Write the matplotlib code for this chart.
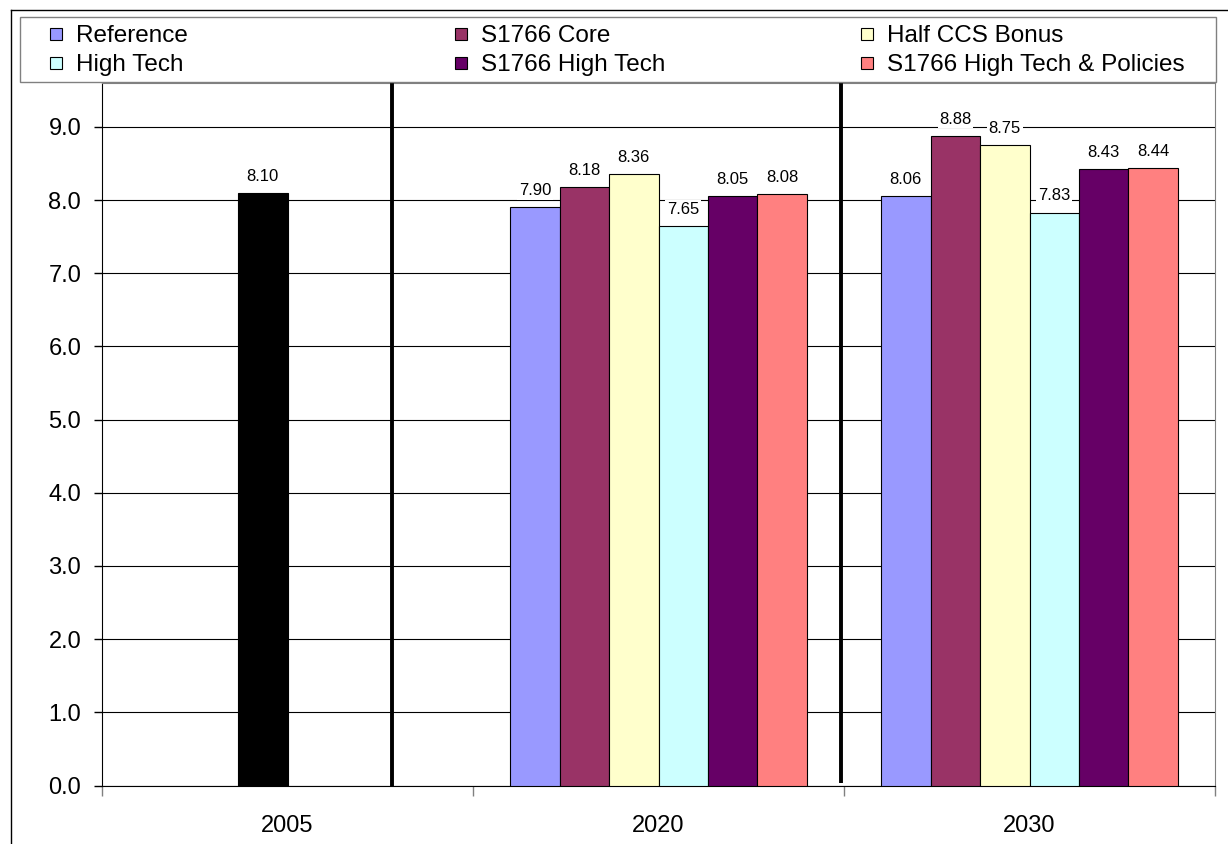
import matplotlib
matplotlib.use('Agg')
import matplotlib.pyplot as plt
from matplotlib.patches import Rectangle
from matplotlib.lines import Line2D
import numpy as np

plt.rcParams['font.family'] = ['Liberation Sans', 'DejaVu Sans']

# data
years = ['2005', '2020', '2030']
value_2005 = 8.10
series_names = ['Reference', 'S1766 Core', 'Half CCS Bonus',
                'High Tech', 'S1766 High Tech', 'S1766 High Tech & Policies']
series_colors = ['#9999FF', '#993366', '#FFFFCC', '#CCFFFF', '#660066', '#FF8080']
reference = [7.90, 8.06]
s1766_core = [8.18, 8.88]
half_ccs_bonus = [8.36, 8.75]
high_tech = [7.65, 7.83]
s1766_high_tech = [8.05, 8.43]
s1766_high_tech_policies = [8.08, 8.44]
series_values = [reference, s1766_core, half_ccs_bonus,
                 high_tech, s1766_high_tech, s1766_high_tech_policies]

W, H = 1228, 844
fig = plt.figure(figsize=(W / 100, H / 100), dpi=100)
fig.patch.set_facecolor('white')

ax_left, ax_right, ax_top, ax_bottom = 102, 1215, 83, 785.5
ax = fig.add_axes([ax_left / W, (H - ax_bottom) / H,
                   (ax_right - ax_left) / W, (ax_bottom - ax_top) / H])

n = len(series_names)
w = 0.8 / n
x = np.arange(len(years))

# 2005 bar sits in the third slot of the group
ax.bar(x[0] + (2 - (n - 1) / 2) * w, value_2005, w, color='black',
       edgecolor='black', linewidth=0.8, zorder=3)
ax.annotate(f'{value_2005:.2f}', (x[0] + (2 - (n - 1) / 2) * w, value_2005),
            xytext=(0, 6.5), textcoords='offset points', ha='center', va='bottom',
            fontsize=12, zorder=5,
            bbox=dict(boxstyle='square,pad=0.1', fc='white', ec='none'))

for j, (name, color, vals) in enumerate(zip(series_names, series_colors, series_values)):
    xs = x[1:] + (j - (n - 1) / 2) * w
    ax.bar(xs, vals, w, color=color, edgecolor='black', linewidth=0.8, zorder=3)
    for xi, v in zip(xs, vals):
        ax.annotate(f'{v:.2f}', (xi, v), xytext=(0, 6.5), textcoords='offset points',
                    ha='center', va='bottom', fontsize=12, zorder=5,
                    bbox=dict(boxstyle='square,pad=0.1', fc='white', ec='none'))

# separator lines between periods
ax.plot([0.282, 0.282], [0, 9.6], color='black', lw=2.8, zorder=4, solid_capstyle='butt')
ax.plot([1.492, 1.492], [0.04, 9.6], color='black', lw=2.8, zorder=4, solid_capstyle='butt')

ax.set_xlim(-0.5, 2.5)
ax.set_ylim(0, 9.6)

ax.set_yticks(np.arange(0, 10))
ax.set_yticklabels([f'{t:.1f}' for t in np.arange(0, 10)], fontsize=17)
ax.tick_params(axis='y', length=6, width=1, pad=9, color='black')
ax.yaxis.grid(True, color='black', linewidth=0.8)
ax.set_axisbelow(True)

ax.set_xticks([-0.5, 0.5, 1.5, 2.5])
ax.set_xticklabels([])
ax.tick_params(axis='x', which='major', length=7, width=1, color='#808080')
ax.set_xticks(x, minor=True)
ax.set_xticklabels(years, minor=True, fontsize=17)
ax.tick_params(axis='x', which='minor', length=0, pad=21)

ax.spines['left'].set_color('black')
ax.spines['bottom'].set_color('black')
ax.spines['right'].set_color('#808080')
ax.spines['top'].set_color('#808080')

# legend box drawn by hand (row-major order like the original)
fig.add_artist(Rectangle((20 / W, 1 - 82 / H), (1216 - 20) / W, (82 - 17) / H,
                         transform=fig.transFigure, fill=False,
                         edgecolor='#808080', linewidth=1))
col_x = [50, 455, 861]
row_y = [34, 63]
for k, (name, color) in enumerate(zip(series_names, series_colors)):
    cx = col_x[k % 3]
    cy = row_y[k // 3]
    fig.add_artist(Rectangle((cx / W, 1 - (cy + 6) / H), 12 / W, 12 / H,
                             transform=fig.transFigure, facecolor=color,
                             edgecolor='black', linewidth=0.8))
    fig.text((cx + 26) / W, 1 - (cy + 1.5) / H, name, fontsize=17.5,
             ha='left', va='center')

# outer chart frame (partly cropped in the original)
fig.add_artist(Line2D([11 / W, 11 / W], [0, 1 - 10 / H], transform=fig.transFigure,
                      color='black', linewidth=1))
fig.add_artist(Line2D([11 / W, 1], [1 - 10 / H, 1 - 10 / H], transform=fig.transFigure,
                      color='black', linewidth=1))

fig.savefig('out.png', dpi=100)
